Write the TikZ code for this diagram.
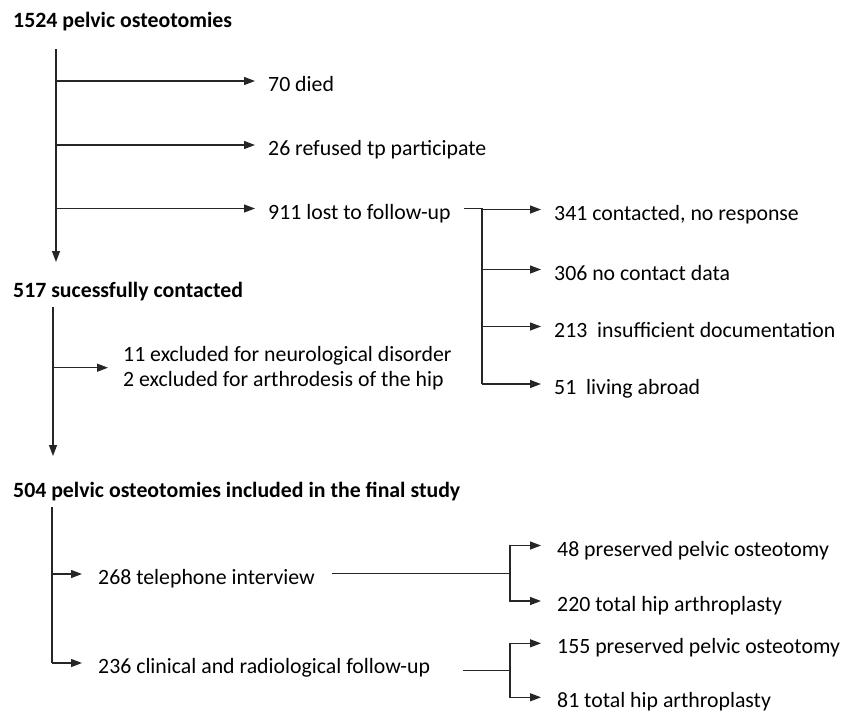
\documentclass[tikz,border=0pt]{standalone}
\usepackage{fontspec}
\setmainfont{Carlito}
\usetikzlibrary{arrows.meta}
\begin{document}
\begin{tikzpicture}[x=1pt,y=-1pt,
  every node/.style={font=\fontsize{21.8}{25}\selectfont, text=black},
  head/.style={anchor=base west, inner sep=0pt, font=\fontsize{21.8}{25}\selectfont\bfseries},
  lab/.style={anchor=west, inner xsep=13pt, inner ysep=0pt, text height=21pt, text depth=0pt},
  lab2/.style={lab, inner xsep=16pt},
  ln/.style={line width=1.3pt, draw=black!85},
  arr/.style={ln, -{Triangle[length=11pt,width=8pt]}}]
\useasboundingbox (0,0) rectangle (858,712);

% ---- level 1
\node[head] (h1) at (13,27) {1524 pelvic osteotomies};
\coordinate (v1top) at (56,49);
\coordinate (v1bot) at (56,262);
\draw[arr] (v1top) -- (v1bot);
\node[lab] (died) at (255,81) {70 died};
\node[lab] (refused) at (255,145) {26 refused tp participate};
\node[lab] (lost) at (255,208.5) {911 lost to follow-up};
\draw[arr] (v1top |- died.west) -- (died.west);
\draw[arr] (v1top |- refused.west) -- (refused.west);
\draw[arr] (v1top |- lost.west) -- (lost.west);

% ---- lost branches
\coordinate (bL) at (482,208.5);
\node[lab] (c341) at (541,209.5) {341 contacted, no response};
\node[lab] (c306) at (541,269.5) {306 no contact data};
\node[lab] (c213) at (541,326.5) {213\ \ insufficient documentation};
\node[lab] (c51)  at (541,384) {51\ \ living abroad};
\draw[ln] (lost.east) -- (bL) -- (bL |- c51.west);
\draw[arr] (bL |- c341.west) -- (c341.west);
\draw[arr] (bL |- c306.west) -- (c306.west);
\draw[arr] (bL |- c213.west) -- (c213.west);
\draw[arr] (bL |- c51.west) -- (c51.west);

% ---- level 2
\node[head] (h2) at (13,297) {517 sucessfully contacted};
\coordinate (v2top) at (53,307);
\coordinate (v2bot) at (53,456);
\draw[arr] (v2top) -- (v2bot);
\node[anchor=west, inner xsep=15pt, inner ysep=0pt, align=left] (excl) at (108,367.7) {11 excluded for neurological disorder\\2 excluded for arthrodesis of the hip};
\draw[arr] (v2top |- excl.west) -- (excl.west);

% ---- level 3
\node[head] (h3) at (13,497) {504 pelvic osteotomies included in the final study};
\coordinate (v3top) at (52,507);
\coordinate (v3bot) at (52,663);
\draw[ln] (v3top) -- (v3bot);
\node[lab2] (tel) at (82,574) {268 telephone interview};
\node[lab2] (clin) at (82,663) {236 clinical and radiological follow-up};
\draw[arr] (v3top |- tel.west) -- (tel.west);
\draw[arr] (v3bot) -- (clin.west);

% ---- telephone branches
\coordinate (tS) at (332,573.5);
\coordinate (bT) at (510,573.5);
\node[lab2] (p48) at (541,545.5) {48 preserved pelvic osteotomy};
\node[lab2] (t220) at (541,601) {220 total hip arthroplasty};
\draw[ln] (tS) -- (bT);
\draw[arr] (bT) |- (p48.west);
\draw[arr] (bT) |- (t220.west);

% ---- clinical branches
\coordinate (cS) at (463,670.7);
\coordinate (bC) at (510,670.7);
\node[lab2] (p155) at (541,643.3) {155 preserved pelvic osteotomy};
\node[lab2] (t81) at (541,697.3) {81 total hip arthroplasty};
\draw[ln] (cS) -- (bC);
\draw[arr] (bC) |- (p155.west);
\draw[arr] (bC) |- (t81.west);
\end{tikzpicture}
\end{document}
